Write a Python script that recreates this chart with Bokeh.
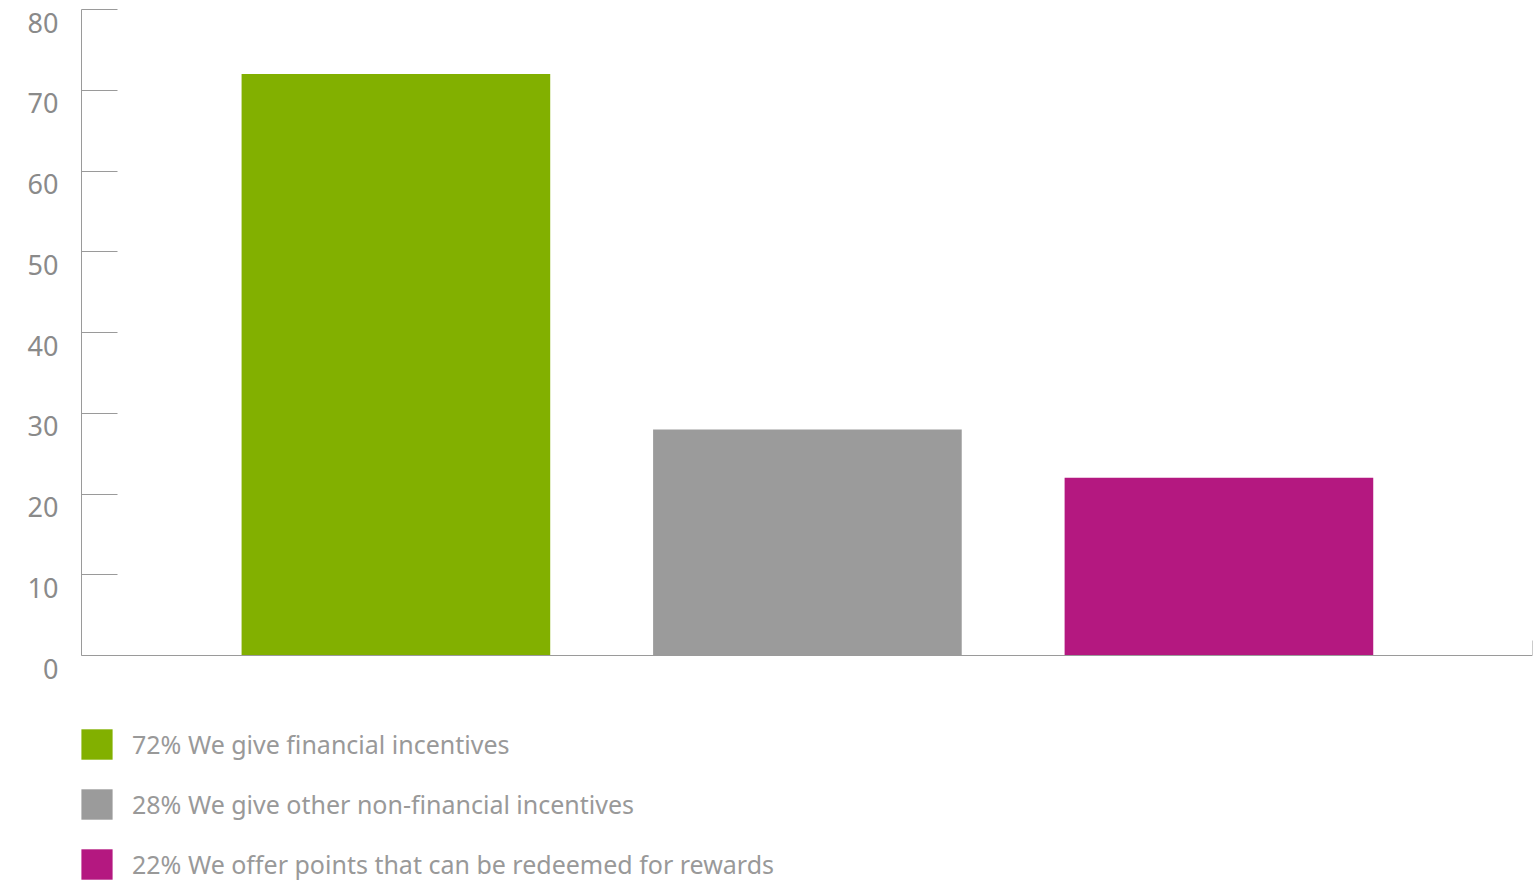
from bokeh.plotting import figure
from bokeh.models import Range1d, LinearAxis, FixedTicker, ColumnDataSource, CustomJSTickFormatter
from bokeh.embed import file_html
from bokeh.resources import INLINE

categories = ["We give financial incentives",
              "We give other non-financial incentives",
              "We offer points that can be redeemed for rewards"]
values = [72, 28, 22]
colors = ["#82b000", "#9b9b9b", "#b41880"]
positions = [1, 2, 3]
y_ticks = [0, 10, 20, 30, 40, 50, 60, 70, 80]

labels = [f"{v}% {c}" for v, c in zip(values, categories)]
src = ColumnDataSource(dict(x=positions, top=values, color=colors, label=labels))

FONT = "Noto Sans"
PX_PER_UNIT = (655 - 9) / 80.0
Y_START = -(882 - 655) / PX_PER_UNIT
SHIFT = 13 / PX_PER_UNIT
X_START, X_END = 0.236, 3.762

p = figure(width=1540, height=882, output_backend="svg", toolbar_location=None,
           x_axis_location=None, y_axis_location=None,
           x_range=Range1d(X_START, X_END), y_range=Range1d(Y_START, 80),
           min_border_left=81, min_border_right=8, min_border_top=9, min_border_bottom=0)
p.outline_line_color = None
p.xgrid.visible = False
p.ygrid.visible = False
p.background_fill_color = "white"
p.border_fill_color = "white"

p.vbar(x="x", top="top", bottom=0, width=0.75, color="color", line_color=None,
       source=src, legend_field="label")

blank = CustomJSTickFormatter(code="return ''")

# y axis: line + inward ticks (labels drawn by the offset axis below)
ax = LinearAxis(ticker=FixedTicker(ticks=y_ticks), bounds=(0, 80),
                major_tick_in=36, major_tick_out=0, minor_tick_line_color=None,
                axis_line_color="#9a9a9a", major_tick_line_color="#9a9a9a",
                formatter=blank, major_label_standoff=0)
p.add_layout(ax, "left")

# y labels, offset below the ticks
p.extra_y_ranges = {"lab": Range1d(Y_START + SHIFT, 80 + SHIFT)}
lab = LinearAxis(y_range_name="lab", ticker=FixedTicker(ticks=y_ticks),
                 axis_line_color=None, major_tick_line_color=None, minor_tick_line_color=None,
                 major_tick_in=0, major_tick_out=0, major_label_standoff=23,
                 major_label_text_font=FONT, major_label_text_font_size="27px",
                 major_label_text_color="#8a8a8a")
p.add_layout(lab, "left")

# x axis at y=0
xa = LinearAxis(fixed_location=0, ticker=FixedTicker(ticks=[X_END]),
                major_tick_in=15, major_tick_out=0, minor_tick_line_color=None,
                axis_line_color="#9a9a9a", major_tick_line_color="#9a9a9a",
                formatter=blank, major_label_standoff=0)
p.add_layout(xa, "below")

lg = p.legend[0]
lg.location = (-4, -1)
lg.padding = 0
lg.margin = 0
lg.spacing = 22
lg.glyph_width = 39
lg.glyph_height = 38
lg.label_standoff = 16
lg.label_text_font = FONT
lg.label_text_font_size = "25px"
lg.label_text_color = "#999999"
lg.border_line_color = None
lg.background_fill_alpha = 0

open("out.html", "w").write(file_html(p, INLINE))
